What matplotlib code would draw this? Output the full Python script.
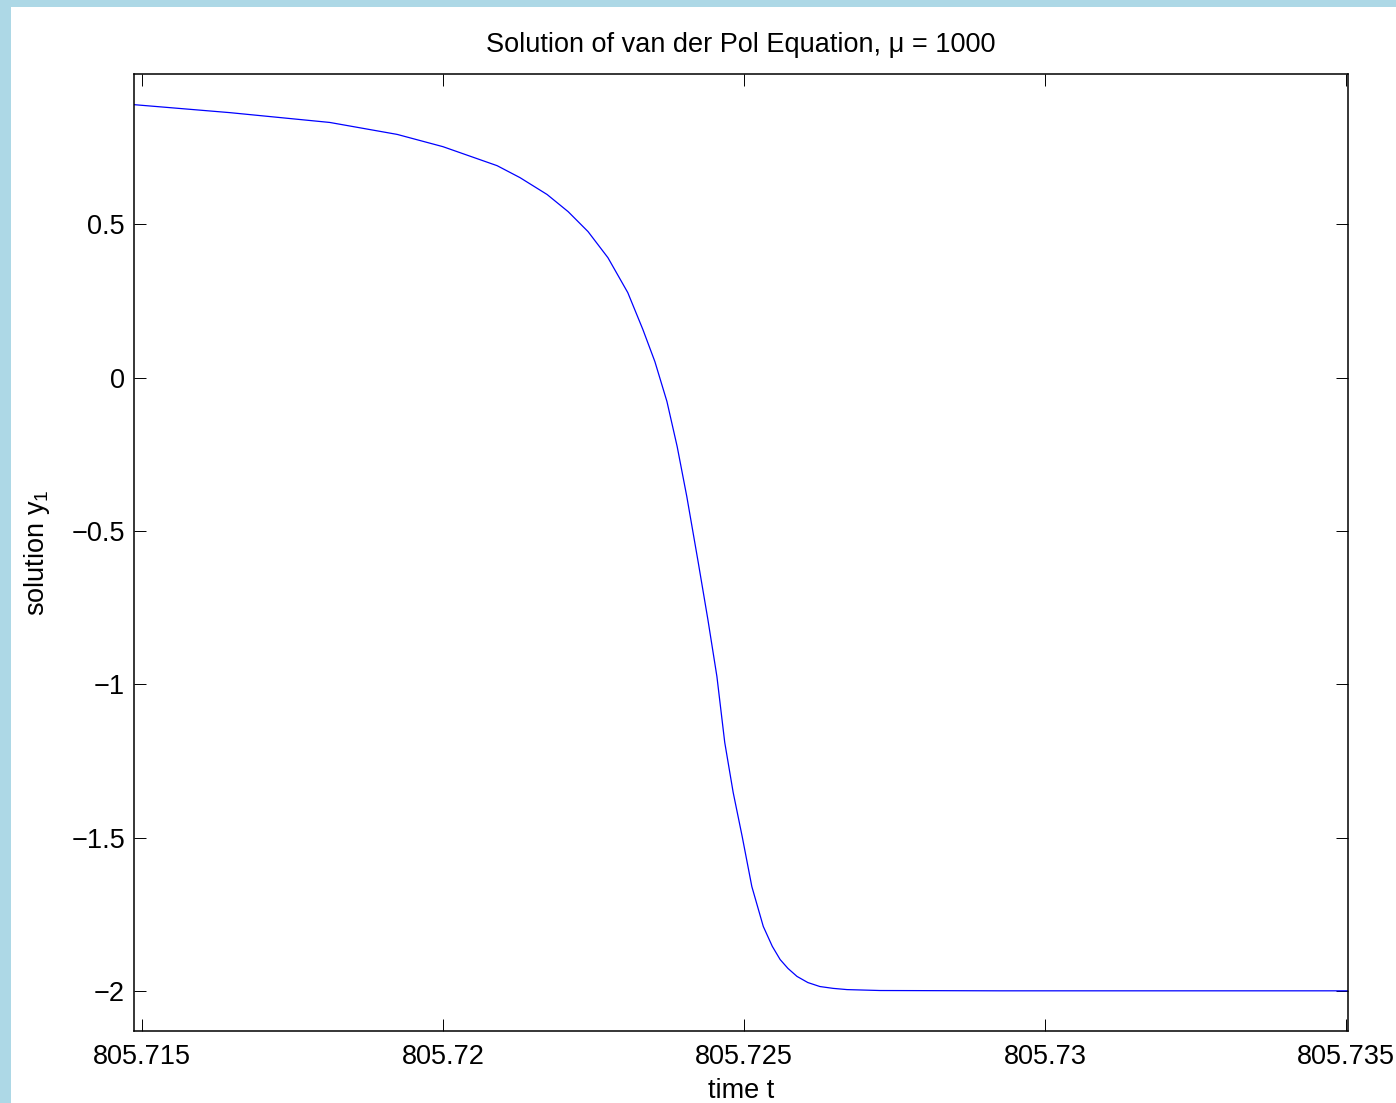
import matplotlib
matplotlib.use('Agg')
import matplotlib.pyplot as plt
from matplotlib.patches import Rectangle
from matplotlib.ticker import FuncFormatter

plt.rcParams['font.family'] = ['Liberation Sans', 'DejaVu Sans']
plt.rcParams['mathtext.fontset'] = 'custom'
plt.rcParams['mathtext.rm'] = 'Liberation Sans'
plt.rcParams['mathtext.default'] = 'regular'

# time samples
t = [805.71487, 805.71646, 805.71812, 805.71924, 805.72000, 805.72090,
     805.72128, 805.72173, 805.72208, 805.72241, 805.72274, 805.72307,
     805.72332, 805.72352, 805.72372, 805.72389, 805.72405, 805.72424,
     805.72440, 805.72455, 805.72468, 805.72482, 805.72497, 805.72513,
     805.72532, 805.72547, 805.72560, 805.72573, 805.72588, 805.72606,
     805.72626, 805.72648, 805.72671, 805.72726, 805.72925, 805.73200,
     805.73503]
# solution y1 at those times
y1 = [0.890, 0.864, 0.832, 0.793, 0.753, 0.691,
      0.652, 0.597, 0.541, 0.476, 0.391, 0.277,
      0.157, 0.052, -0.078, -0.225, -0.388, -0.603,
      -0.789, -0.975, -1.190, -1.353, -1.497, -1.660,
      -1.790, -1.855, -1.898, -1.927, -1.953, -1.973,
      -1.986, -1.992, -1.996, -1.999, -2.000, -2.000,
      -2.000]

x_ticks = [805.715, 805.72, 805.725, 805.73, 805.735]
y_ticks = [-2, -1.5, -1, -0.5, 0, 0.5]

fig = plt.figure(figsize=(13.96, 11.03), dpi=100, facecolor='#add8e6')
# white canvas with light blue strip on left/top
fig.patches.append(Rectangle((11 / 1396, 0), 1, (1103 - 7) / 1103,
                             transform=fig.transFigure, facecolor='white',
                             edgecolor='none', zorder=-10))

ax = fig.add_axes([134 / 1396, 1 - 1031.3 / 1103,
                   (1348 - 134) / 1396, (1031.3 - 74.3) / 1103])
ax.plot(t, y1, color='#0000ff', linewidth=0.9)

ax.set_xlim(t[0], t[-1])
ax.set_ylim(-2.132, 0.989)
ax.set_xticks(x_ticks)
ax.set_yticks(y_ticks)
ax.xaxis.set_major_formatter(FuncFormatter(lambda v, p: '%g' % round(v, 6)))
ax.yaxis.set_major_formatter(
    FuncFormatter(lambda v, p: ('%g' % v).replace('-', '\u2212')))

ax.tick_params(direction='in', length=8.5, width=0.7, labelsize=19.5,
               top=True, right=True)
ax.tick_params(axis='x', pad=9)
ax.tick_params(axis='y', pad=6.5)
for s in ax.spines.values():
    s.set_linewidth(1.1)

ax.set_title('Solution of van der Pol Equation, \u03bc = 1000',
             fontsize=19.5, pad=16)
ax.set_xlabel('time t', fontsize=19.5, labelpad=6)
ax.set_ylabel('solution y$_1$', fontsize=19.5, labelpad=14)

fig.savefig('out.png', dpi=100, facecolor=fig.get_facecolor())
